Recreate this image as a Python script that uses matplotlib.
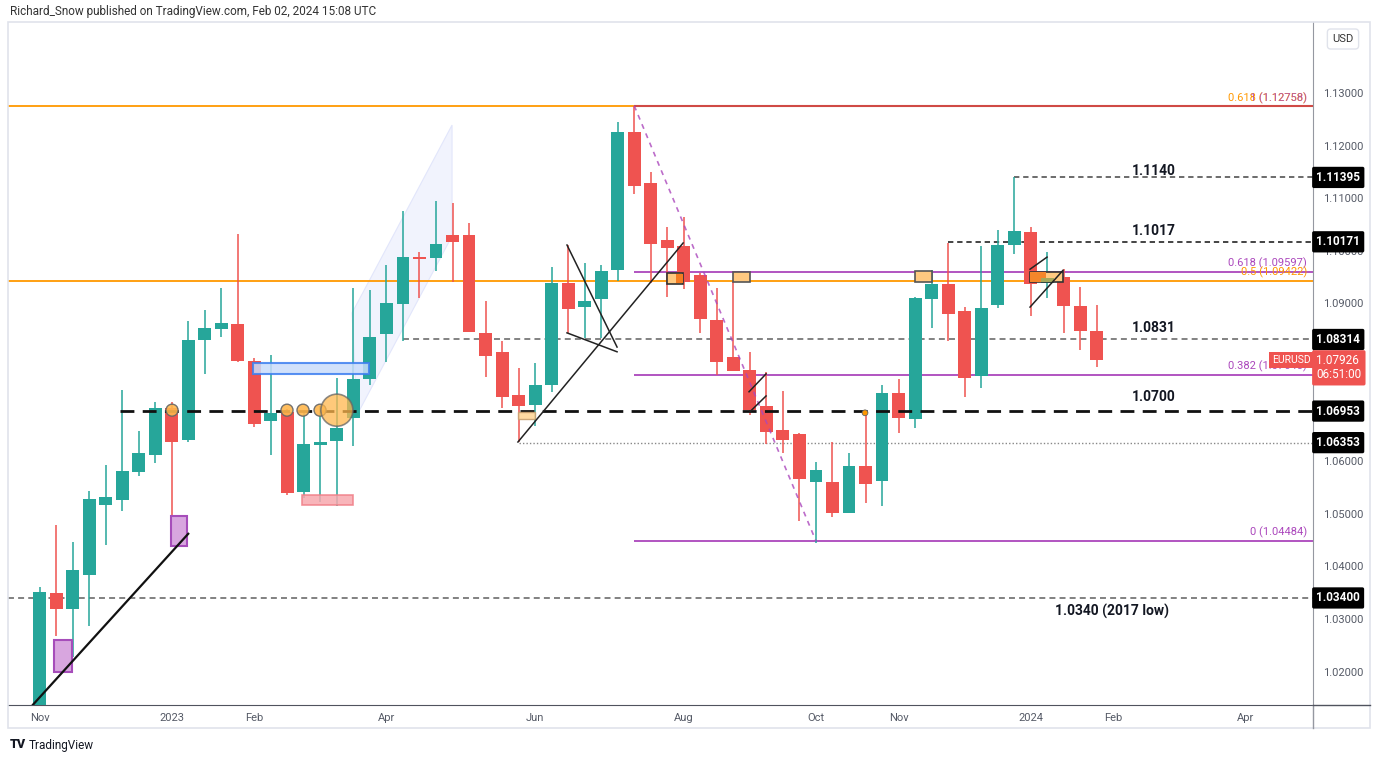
import matplotlib
matplotlib.use("Agg")
import matplotlib.pyplot as plt
from matplotlib.patches import Rectangle, Ellipse, Polygon
from matplotlib.lines import Line2D
import numpy as np

plt.rcParams['font.family'] = ['Roboto', 'DejaVu Sans']

# weekly EURUSD candles, week 0 = 7 Nov 2022 ... week 64 = 29 Jan 2024
opens = [0.9965, 1.0349, 1.0319, 1.0384, 1.0517, 1.0526, 1.0580, 1.0611, 1.0701, 1.0640,
         1.0830, 1.0852, 1.0861, 1.0790, 1.0676, 1.0693, 1.0542, 1.0631, 1.0639, 1.0683,
         1.0756, 1.0842, 1.0898, 1.0989, 1.0987, 1.1030, 1.1030, 1.0844, 1.0808, 1.0725,
         1.0707, 1.0744, 1.0939, 1.0893, 1.0908, 1.0963, 1.1226, 1.1129, 1.1021, 1.1010,
         1.0954, 1.0868, 1.0798, 1.0773, 1.0705, 1.0659, 1.0652, 1.0561, 1.0561, 1.0501,
         1.0590, 1.0562, 1.0729, 1.0680, 1.0908, 1.0936, 1.0886, 1.0762, 1.0897, 1.1011,
         1.1036, 1.0939, 1.0950, 1.0895, 1.0848]
highs = [1.0361, 1.0479, 1.0446, 1.0543, 1.0593, 1.0735, 1.0657, 1.0712, 1.0712, 1.0867,
         1.0887, 1.0930, 1.1032, 1.0797, 1.0802, 1.0700, 1.0697, 1.0704, 1.0759, 1.0929,
         1.0925, 1.0973, 1.1076, 1.0998, 1.1095, 1.1090, 1.1052, 1.0905, 1.0829, 1.0778,
         1.0786, 1.0970, 1.1011, 1.0977, 1.0973, 1.1244, 1.1275, 1.1150, 1.1046, 1.1064,
         1.0957, 1.0929, 1.0941, 1.0807, 1.0770, 1.0734, 1.0654, 1.0598, 1.0637, 1.0615,
         1.0694, 1.0745, 1.0756, 1.0912, 1.0963, 1.1015, 1.0894, 1.1009, 1.1040, 1.1141,
         1.1046, 1.0998, 1.0965, 1.0932, 1.0897]
lows = [0.9935, 1.0268, 1.0228, 1.0287, 1.0441, 1.0505, 1.0572, 1.0597, 1.0483, 1.0637,
        1.0766, 1.0836, 1.0789, 1.0665, 1.0611, 1.0536, 1.0530, 1.0523, 1.0514, 1.0629,
        1.0745, 1.0788, 1.0829, 1.0910, 1.0962, 1.0941, 1.0845, 1.0760, 1.0701, 1.0636,
        1.0666, 1.0732, 1.0843, 1.0834, 1.0834, 1.0943, 1.1108, 1.0939, 1.0912, 1.0927,
        1.0843, 1.0764, 1.0771, 1.0688, 1.0633, 1.0615, 1.0486, 1.0445, 1.0493, 1.0501,
        1.0520, 1.0515, 1.0654, 1.0664, 1.0853, 1.0829, 1.0723, 1.0740, 1.0891, 1.0993,
        1.0876, 1.0910, 1.0844, 1.0811, 1.0780]
closes = [1.0351, 1.0319, 1.0393, 1.0529, 1.0531, 1.0581, 1.0615, 1.0701, 1.0637, 1.0830,
          1.0853, 1.0863, 1.0790, 1.0671, 1.0691, 1.0540, 1.0632, 1.0637, 1.0663, 1.0756,
          1.0836, 1.0900, 1.0989, 1.0985, 1.1013, 1.1016, 1.0845, 1.0800, 1.0723, 1.0704,
          1.0744, 1.0939, 1.0889, 1.0905, 1.0962, 1.1226, 1.1123, 1.1012, 1.1006, 1.0940,
          1.0870, 1.0789, 1.0771, 1.0697, 1.0656, 1.0640, 1.0567, 1.0583, 1.0501, 1.0590,
          1.0557, 1.0729, 1.0682, 1.0910, 1.0936, 1.0879, 1.0758, 1.0891, 1.1011, 1.1038,
          1.0936, 1.0948, 1.0895, 1.0848, 1.0793]

tick_weeks = [0, 8, 13, 21, 30, 39, 47, 52, 60, 65, 73]
tick_labels = ['Nov', '2023', 'Feb', 'Apr', 'Jun', 'Aug', 'Oct', 'Nov', '2024', 'Feb', 'Apr']
price_ticks = [1.02, 1.03, 1.04, 1.05, 1.06, 1.07, 1.08, 1.09, 1.10, 1.11, 1.12, 1.13]

# levels drawn on the chart
fib_hi, fib_lo = 1.12758, 1.04484
fib_levels = [0.618, 0.382]
orange_levels = [1.09422, 1.12758]
tag_levels = [1.11395, 1.10171, 1.08314, 1.06953, 1.06353, 1.03400]
last_price = 1.07926

GREEN = '#26a69a'
RED = '#ef5350'
PURPLE = '#ab47bc'
ORANGE = '#ff9800'

W, H = 1380, 760
fig = plt.figure(figsize=(W / 100, H / 100), dpi=100)
ax = fig.add_axes([8 / W, 1 - 705 / H, 1305 / W, 683 / H])
ax.set_xlim(-1.91, 77.09)
ax.set_ylim(1.01365, 1.1435)
XR = 77.09

o = np.array(opens); h = np.array(highs); l = np.array(lows); c = np.array(closes)
x = np.arange(len(o))
cols = np.where(c >= o, GREEN, RED)

# candles
ax.vlines(x, l, h, colors=cols, lw=1.1, zorder=3)
ax.bar(x, np.maximum(np.abs(c - o), 0.00025), bottom=np.minimum(o, c), width=0.78,
       color=cols, zorder=4)

# horizontal levels
ax.axhline(orange_levels[0], color=ORANGE, lw=1.3, zorder=2)
ax.axhline(orange_levels[1], color=ORANGE, lw=1.3, zorder=2)
ax.hlines(fib_hi, 36, XR, color='#d04a45', lw=1.5, zorder=2)
for f in fib_levels:
    ax.hlines(fib_lo + f * (fib_hi - fib_lo), 36, XR, color=PURPLE, lw=1.3, zorder=2)
ax.hlines(fib_lo, 36, XR, color=PURPLE, lw=1.3, zorder=2)
ax.plot([36, 47], [fib_hi, fib_lo], color=PURPLE, lw=1.2, ls=(0, (3, 3)), alpha=0.8, zorder=5)

ax.hlines(1.06953, 4.9, XR, color='#111111', lw=2, ls=(0, (5, 3)), zorder=5)
ax.hlines(1.08314, 22, XR, color='#787878', lw=1.3, ls=(0, (3.3, 2.3)), zorder=2)
ax.hlines(1.06353, 29, XR, color='#888888', lw=1, ls=(0, (1, 1.5)), zorder=2)
ax.hlines(1.11395, 59, XR, color='#444444', lw=1.1, ls=(0, (3.5, 2.5)), zorder=2)
ax.hlines(1.10171, 55, XR, color='#111111', lw=1.1, ls=(0, (3.5, 2.5)), zorder=2)
ax.axhline(1.034, color='#777777', lw=1.3, ls=(0, (3.3, 2.3)), zorder=2)

# rising channel (very light fill)
ax.add_patch(Polygon([(18.92, 1.0882), (24.97, 1.1239), (24.97, 1.1028), (19.22, 1.0688)],
                     closed=True, fc='#f1f3fd', ec='#e2e6fb', lw=0.8, zorder=1))

# trend lines
ax.plot([-0.4, 9.0], [1.0137, 1.0462], color='#111111', lw=1.6, zorder=6)
ax.plot([28.96, 38.96], [1.06365, 1.10149], color='#222222', lw=1.1, zorder=6)
ax.plot([31.93, 34.96], [1.1011, 1.0817], color='#222222', lw=1.1, zorder=6)
ax.plot([31.93, 34.96], [1.0844, 1.0808], color='#222222', lw=1.1, zorder=6)
ax.plot([42.95, 43.98], [1.0732, 1.0766], color='#222222', lw=1.1, zorder=6)
ax.plot([43.0, 43.98], [1.0694, 1.0724], color='#222222', lw=1.1, zorder=6)
ax.plot([59.96, 60.99], [1.0965, 1.0988], color='#222222', lw=1.1, zorder=6)
ax.plot([59.96, 61.96], [1.0893, 1.0963], color='#222222', lw=1.1, zorder=6)

def box(x0, x1, y0, y1, fc, ec, lw=1.2, alpha=1.0, z=5):
    ax.add_patch(Rectangle((x0, y0), x1 - x0, y1 - y0, fc=fc, ec=ec, lw=lw, alpha=alpha, zorder=z))

box(0.88, 1.97, 1.0199, 1.0260, '#d8a6df', '#a64dba', 1.5)
box(7.96, 8.93, 1.0439, 1.0496, '#d8a6df', '#a64dba', 1.5)
box(12.92, 19.94, 1.0766, 1.0787, '#c9dcfb', '#3d7ff0', 1.5, 0.85)
box(15.89, 18.98, 1.0517, 1.0536, '#f7a8ae', '#f07f88', 1.2, 0.85)
box(28.96, 29.99, 1.0680, 1.0694, '#ffd699', '#c8a070', 1.0, 0.9)
box(37.98, 38.96, 1.0937, 1.0958, '#ffc980', '#333333', 1.2)
box(38.5, 38.96, 1.0939, 1.0956, '#f57c22', 'none', 0)
box(41.98, 43.0, 1.0941, 1.0960, '#ffc980', '#555555', 1.2)
box(53.0, 54.03, 1.0941, 1.0962, '#ffc980', '#555555', 1.2)
box(59.96, 61.96, 1.0941, 1.0960, '#ffc980', '#333333', 1.2)
box(59.96, 60.95, 1.0941, 1.0960, '#f5862a', 'none', 0)
box(60.6, 61.4, 1.0941, 1.0948, '#a5a85a', 'none', 0)

# orange markers on the 1.07 line
for wx in [8.02, 14.98, 15.95, 16.98]:
    ax.add_patch(Ellipse((wx, 1.0697), 0.73, 0.00228, fc='#ffb74d', ec='#666666', lw=1, alpha=0.9, zorder=7))
ax.add_patch(Ellipse((18.0, 1.0697), 1.94, 0.0061, fc='#ffb74d', ec='#666666', lw=1.2, alpha=0.75, zorder=7))
ax.add_patch(Ellipse((49.97, 1.0692), 0.35, 0.0011, fc='#ff9800', ec='#666666', lw=0.6, zorder=7))

# level labels
for txt, px, py in [('1.1140', 66.1, 1.1152), ('1.1017', 66.1, 1.1038),
                    ('1.0831', 66.1, 1.0853), ('1.0700', 66.1, 1.0722),
                    ('1.0340 (2017 low)', 61.5, 1.0315)]:
    ax.text(px, py, txt, fontsize=10, fontweight='bold', color='#131722',
            ha='left', va='center', zorder=8)

yt = ax.get_yaxis_transform()
fx = 0.9954
ax.text(fx, 1.1290, '0.618 (1.12758)', color=ORANGE, fontsize=8, ha='right', va='center', transform=yt)
ax.text(fx, 1.1290, '1 (1.12758)', color=PURPLE, fontsize=8, ha='right', va='center', transform=yt, alpha=0.8)
ax.text(fx, 1.0977, '0.618 (1.09597)', color=PURPLE, fontsize=8, ha='right', va='center', transform=yt)
ax.text(fx, 1.0959, '0.5 (1.09422)', color=ORANGE, fontsize=8, ha='right', va='center', transform=yt)
ax.text(fx, 1.0780, '0.382 (1.07645)', color=PURPLE, fontsize=8, ha='right', va='center', transform=yt)
ax.text(fx, 1.0465, '0 (1.04484)', color=PURPLE, fontsize=8, ha='right', va='center', transform=yt)

# axes styling
for s in ['top', 'left']:
    ax.spines[s].set_visible(False)
ax.spines['right'].set_color('#9598a1')
ax.spines['bottom'].set_color('#50535e')
ax.yaxis.tick_right()
ax.set_yticks(price_ticks)
ax.set_yticklabels(['{:.5f}'.format(p) for p in price_ticks])
ax.set_xticks(tick_weeks)
ax.set_xticklabels(tick_labels)
ax.tick_params(axis='y', length=0, pad=7, labelsize=8, labelcolor='#555a66')
ax.tick_params(axis='x', length=0, pad=6, labelsize=8, labelcolor='#555a66')

# price tags on the right axis
for p in tag_levels:
    ax.text(1.0025, p, '{:.5f}'.format(p), transform=yt, ha='left', va='center', color='white',
            fontsize=8.5, fontweight='bold', clip_on=False, zorder=10,
            bbox=dict(boxstyle='round,pad=0.35,rounding_size=0.15', fc='black', ec='none'))
ax.text(1.0025, 1.07775, '{:.5f}\n06:51:00'.format(last_price), transform=yt, ha='left', va='center',
        color='white', fontsize=8.5, clip_on=False, zorder=10, linespacing=1.1,
        bbox=dict(boxstyle='round,pad=0.35,rounding_size=0.15', fc=RED, ec='none'))
ax.text(0.9985, 1.0792, 'EURUSD', transform=yt, ha='right', va='center', color='white',
        fontsize=7.5, clip_on=False, zorder=10,
        bbox=dict(boxstyle='square,pad=0.3', fc=RED, ec='none'))

# frame, header, footer
fig.add_artist(Rectangle((8 / W, 1 - 728 / H), 1362 / W, 706 / H, transform=fig.transFigure,
                         fc='none', ec='#e0e3eb', lw=1.2))
fig.add_artist(Line2D([1313 / W, 1313 / W], [1 - 728 / H, 1 - 705 / H], color='#9598a1', lw=1))
fig.add_artist(Line2D([1313 / W, 1370 / W], [1 - 705 / H, 1 - 705 / H], color='#50535e', lw=1))
fig.text(1343 / W, 1 - 39 / H, 'USD', fontsize=8, color='#333333', ha='center', va='center',
         bbox=dict(boxstyle='round,pad=0.45,rounding_size=0.3', fc='white', ec='#e0e3eb'))
fig.text(10 / W, 1 - 12 / H, 'Richard_Snow published on TradingView.com, Feb 02, 2024 15:08 UTC',
         fontsize=8.5, color='#333333', ha='left', va='center')
fig.text(10 / W, 1 - 745 / H, 'TV', fontsize=9, fontweight='heavy', color='#131722', ha='left', va='center')
fig.text(29 / W, 1 - 745 / H, 'TradingView', fontsize=8.5, color='#131722', ha='left', va='center')

fig.savefig('out.png', dpi=100, facecolor='white')
